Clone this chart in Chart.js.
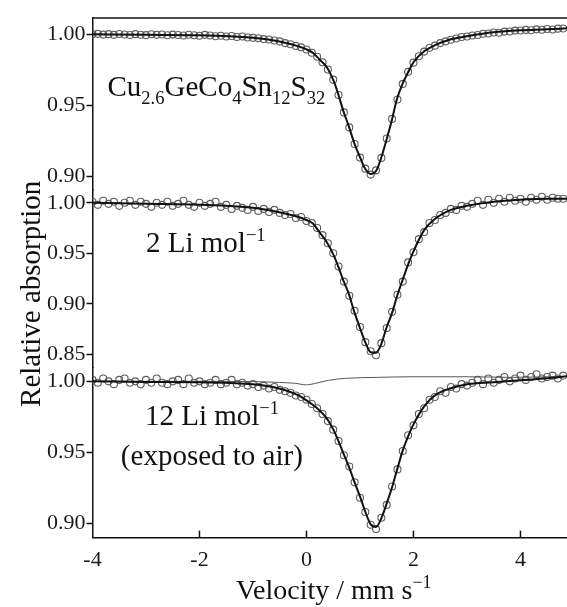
<!DOCTYPE html>
<html lang="en">
<head>
  <meta charset="UTF-8">
  <title>Mössbauer spectra</title>
  <style>
    html, body { margin: 0; padding: 0; background: #fff; overflow: hidden; }
    .wrap { width: 567px; height: 607px; position: relative; }
  </style>
</head>
<body>
<div class="wrap"><canvas id="spectra"></canvas></div>

<script src="https://cdn.jsdelivr.net/npm/chart.js"></script>
<script>
// channel velocities (mm/s) of the measured points
const velocity = [
  -4.0,-3.9,-3.8,-3.7,-3.6,-3.5,-3.4,-3.3,-3.2,-3.1,
  -3.0,-2.9,-2.8,-2.7,-2.6,-2.5,-2.4,-2.3,-2.2,-2.1,
  -2.0,-1.9,-1.8,-1.7,-1.6,-1.5,-1.4,-1.3,-1.2,-1.1,
  -1.0,-0.9,-0.8,-0.7,-0.6,-0.5,-0.4,-0.3,-0.2,-0.1,
  0.0,0.1,0.2,0.3,0.4,0.5,0.6,0.7,0.8,0.9,
  1.0,1.1,1.2,1.3,1.4,1.5,1.6,1.7,1.8,1.9,
  2.0,2.1,2.2,2.3,2.4,2.5,2.6,2.7,2.8,2.9,
  3.0,3.1,3.2,3.3,3.4,3.5,3.6,3.7,3.8,3.9,
  4.0,4.1,4.2,4.3,4.4,4.5,4.6,4.7,4.8
];

// Cu2.6GeCo4Sn12S32 (pristine)
const topPoints = [
  1.0000,1.0003,0.9998,1.0001,0.9996,1.0002,0.9999,0.9995,1.0001,0.9997,
  0.9994,1.0000,0.9996,0.9999,0.9993,0.9998,0.9995,0.9991,0.9997,0.9993,
  0.9990,0.9996,0.9992,0.9986,0.9990,0.9984,0.9988,0.9981,0.9984,0.9977,
  0.9975,0.9972,0.9966,0.9963,0.9956,0.9950,0.9938,0.9930,0.9918,0.9908,
  0.9893,0.9870,0.9842,0.9803,0.9752,0.9680,0.9572,0.9449,0.9343,0.9226,
  0.9130,0.9052,0.9010,0.9040,0.9128,0.9265,0.9403,0.9540,0.9650,0.9735,
  0.9800,0.9845,0.9878,0.9905,0.9920,0.9938,0.9950,0.9962,0.9970,0.9981,
  0.9984,0.9992,0.9995,1.0004,1.0006,1.0013,1.0011,1.0019,1.0020,1.0026,
  1.0027,1.0031,1.0029,1.0035,1.0032,1.0037,1.0034,1.0040,1.0041
];

// 2 Li per mol
const midPoints = [
  1.001,0.998,1.002,0.999,1.001,0.997,1.000,1.002,0.998,1.001,
  0.999,0.996,1.000,0.998,1.001,0.997,0.999,1.002,0.998,0.996,
  1.000,0.997,0.999,1.001,0.996,0.998,0.994,0.997,0.995,0.993,
  0.996,0.992,0.994,0.991,0.993,0.990,0.988,0.989,0.985,0.986,
  0.982,0.980,0.975,0.968,0.960,0.950,0.937,0.922,0.908,0.893,
  0.877,0.862,0.853,0.849,0.861,0.876,0.892,0.909,0.922,0.941,
  0.951,0.964,0.971,0.980,0.983,0.988,0.990,0.994,0.993,0.997,
  0.996,0.999,1.002,0.998,1.003,1.000,1.004,1.001,1.005,1.002,
  1.004,1.001,1.005,1.003,1.006,1.003,1.005,1.004,1.004
];

// 12 Li per mol, exposed to air
const botPoints = [
  1.001,0.999,1.002,1.000,0.998,1.001,1.002,0.999,1.000,0.998,
  1.001,0.999,1.002,0.999,0.998,1.000,1.001,0.998,1.002,0.999,
  1.000,0.998,0.999,1.001,0.998,0.999,1.001,0.998,0.999,0.997,
  0.998,0.996,0.997,0.995,0.996,0.994,0.993,0.992,0.990,0.989,
  0.987,0.984,0.981,0.977,0.972,0.966,0.958,0.948,0.940,0.929,
  0.918,0.908,0.899,0.896,0.904,0.913,0.926,0.938,0.951,0.962,
  0.969,0.977,0.981,0.987,0.989,0.993,0.992,0.996,0.995,0.998,
  0.997,0.999,1.001,0.998,1.002,0.999,1.001,1.003,1.000,1.002,
  1.004,1.001,1.003,1.005,1.002,1.003,1.004,1.002,1.004
];

// fitted envelopes
const fitVelocity = [-4, -3, -2, -1, -0.53, -0.15, 0, 0.13, 0.24, 0.38, 0.51, 0.6, 0.69, 0.79, 0.9, 1.0, 1.09,
  1.2, 1.3, 1.39, 1.5, 1.6, 1.69, 1.8, 1.9, 2.0, 2.2, 2.4, 2.7, 3.0, 3.5, 4.0, 4.5, 4.87];
const topFit = [1.000, 0.9996, 0.9993, 0.9975, 0.9951, 0.9915, 0.9894, 0.9866, 0.9824, 0.9768, 0.9669, 0.957, 0.9458,
  0.9352, 0.9225, 0.9134, 0.9056, 0.9014, 0.9035, 0.912, 0.9261, 0.9401, 0.9542, 0.9655, 0.9732, 0.9803, 0.988,
  0.9923, 0.9965, 0.9986, 1.0014, 1.0028, 1.0035, 1.0042];
const midFit = [1.000, 0.999, 0.998, 0.995, 0.991, 0.986, 0.983, 0.979, 0.971, 0.961, 0.948, 0.936, 0.923,
  0.910, 0.891, 0.876, 0.863, 0.852, 0.8515, 0.859, 0.877, 0.891, 0.907, 0.924, 0.939, 0.952, 0.973,
  0.984, 0.993, 0.997, 1.001, 1.003, 1.004, 1.004];
const botFit = [1.000, 0.9996, 0.9993, 0.9979, 0.9951, 0.9901, 0.9866, 0.9831, 0.9796, 0.9739, 0.9655, 0.9577, 0.9493,
  0.9401, 0.9289, 0.919, 0.9092, 0.8993, 0.8975, 0.9028, 0.9141, 0.9254, 0.9373, 0.9514, 0.9613, 0.9697, 0.9824,
  0.9901, 0.9951, 0.9979, 0.9993, 1.0007, 1.0021, 1.0035];

// minor sub-spectrum drawn in the bottom panel
const subVelocity = [-4, -2, -1, -0.5, -0.21, 0, 0.17, 0.41, 0.73, 1.35, 1.97, 3.04, 3.85, 4.86];
const subComponent = [1.000, 1.000, 0.9998, 0.9992, 0.9986, 0.9975, 0.9986, 1.0007, 1.0021, 1.0028, 1.0032, 1.0032, 1.0028, 1.0035];

// tick labels
const velocityTicks = [-4, -2, 0, 2, 4];
const topTicks = [0.90, 0.95, 1.00];
const midTicks = [0.85, 0.90, 0.95, 1.00];
const botTicks = [0.90, 0.925, 0.95, 0.975, 1.00];
const botMinor = [0.925, 0.975];

const serif = "'Liberation Serif', 'Times New Roman', serif";
Chart.defaults.font.family = serif;
Chart.defaults.color = '#1a1a1a';

const pairs = (xs, ys) => xs.map((x, i) => ({ x: x, y: ys[i] }));

function pointSet(data, axis) {
  return {
    data: data, yAxisID: axis, order: 2,
    pointRadius: 3.5, pointBorderWidth: 1.1, pointBorderColor: '#5e5e5e',
    pointBackgroundColor: 'rgba(255,255,255,0)', showLine: false
  };
}
function lineSet(data, axis, width, color) {
  return {
    data: data, yAxisID: axis, order: 1, showLine: true, pointRadius: 0,
    borderColor: color, borderWidth: width, cubicInterpolationMode: 'monotone'
  };
}

function panelAxis(ticks, minor, min, max, weight) {
  return {
    type: 'linear', position: 'left', stack: 'panels', stackWeight: weight,
    min: min, max: max,
    border: { color: '#111', width: 1.5 },
    grid: { drawOnChartArea: false, tickLength: 6, tickColor: '#111', tickWidth: 1.5 },
    ticks: {
      font: { size: 22 }, padding: 1,
      callback: v => minor.includes(v) ? '' : v.toFixed(2)
    },
    afterBuildTicks: axis => { axis.ticks = ticks.map(v => ({ value: v })); }
  };
}

// rich text with sub/superscripts
function rich(ctx, x, y, parts, size, draw) {
  let cx = x;
  for (const [t, kind] of parts) {
    const s = kind ? size * 0.64 : size;
    ctx.font = s + 'px ' + serif;
    const dy = kind === 'sub' ? size * 0.27 : kind === 'sup' ? -size * 0.38 : 0;
    if (draw) ctx.fillText(t, cx, y + dy);
    cx += ctx.measureText(t).width;
  }
  return cx - x;
}

const labels = [
  { axis: 'yTop', x: -3.72, y: 0.9563, parts: [['Cu'], ['2.6', 'sub'], ['GeCo'], ['4', 'sub'], ['Sn'], ['12', 'sub'], ['S'], ['32', 'sub']] },
  { axis: 'yMid', x: -3.0, y: 0.9513, parts: [['2 Li mol'], ['\u22121', 'sup']] },
  { axis: 'yBot', x: -3.02, y: 0.969, parts: [['12 Li mol'], ['\u22121', 'sup']] },
  { axis: 'yBot', x: -3.47, y: 0.9408, parts: [['(exposed to air)']] }
];

const decorations = {
  id: 'decorations',
  afterDraw(chart) {
    const { ctx, chartArea: a, scales } = chart;
    ctx.save();
    ctx.strokeStyle = '#111';
    ctx.lineWidth = 1.5;
    // top frame line
    ctx.beginPath(); ctx.moveTo(a.left, a.top); ctx.lineTo(a.right, a.top); ctx.stroke();
    // velocity ticks point inwards
    scales.x.ticks.forEach(t => {
      const px = scales.x.getPixelForValue(t.value);
      if (px <= a.left + 1) return;
      ctx.beginPath(); ctx.moveTo(px, a.bottom); ctx.lineTo(px, a.bottom - 7); ctx.stroke();
    });

    ctx.fillStyle = '#111';
    ctx.textAlign = 'left';
    ctx.textBaseline = 'alphabetic';
    labels.forEach(l => {
      rich(ctx, scales.x.getPixelForValue(l.x), scales[l.axis].getPixelForValue(l.y), l.parts, 29, true);
    });

    // x title
    const xt = [['Velocity / mm s'], ['\u22121', 'sup']];
    const w = rich(ctx, 0, 0, xt, 28, false);
    rich(ctx, (a.left + a.right) / 2 + 4 - w / 2, a.bottom + 61, xt, 28, true);

    // y title
    ctx.translate(40, (a.top + a.bottom) / 2 + 16);
    ctx.rotate(-Math.PI / 2);
    ctx.textAlign = 'center';
    ctx.font = '29px ' + serif;
    ctx.fillText('Relative absorption', 0, 0);
    ctx.restore();
  }
};

new Chart(document.getElementById('spectra'), {
  type: 'scatter',
  data: {
    datasets: [
      lineSet(pairs(fitVelocity, topFit), 'yTop', 2, '#111'),
      lineSet(pairs(fitVelocity, midFit), 'yMid', 2, '#111'),
      lineSet(pairs(fitVelocity, botFit), 'yBot', 2, '#111'),
      lineSet(pairs(subVelocity, subComponent), 'yBot', 1, '#555'),
      pointSet(pairs(velocity, topPoints), 'yTop'),
      pointSet(pairs(velocity, midPoints), 'yMid'),
      pointSet(pairs(velocity, botPoints), 'yBot')
    ]
  },
  options: {
    responsive: true,
    maintainAspectRatio: false,
    animation: false,
    layout: { autoPadding: false, padding: { left: 46, right: 0, top: 18, bottom: 25 } },
    plugins: { legend: { display: false }, tooltip: { enabled: false } },
    scales: {
      x: {
        type: 'linear', min: -4, max: 4.87,
        border: { color: '#111', width: 1.5 },
        grid: { drawOnChartArea: false, drawTicks: false },
        ticks: { font: { size: 22 }, padding: 9, callback: v => String(v) },
        afterBuildTicks: axis => { axis.ticks = velocityTicks.map(v => ({ value: v })); },
        afterFit: axis => { axis.paddingRight = 0; axis.paddingLeft = 0; }
      },
      yBot: panelAxis(botTicks, botMinor, 0.890, 1.0098, 170),
      yMid: panelAxis(midTicks, [], 0.837, 1.0125, 177),
      yTop: panelAxis(topTicks, [], 0.890, 1.0115, 172)
    }
  },
  plugins: [decorations]
});
</script>
</body>
</html>
